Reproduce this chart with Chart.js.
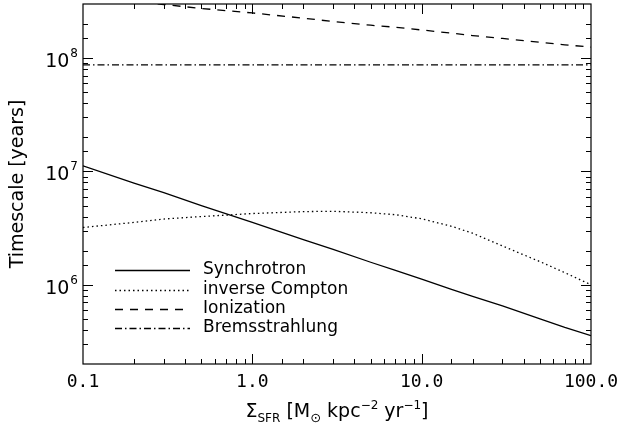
<!DOCTYPE html>
<html>
<head>
<meta charset="utf-8">
<script src="https://cdn.jsdelivr.net/npm/chart.js@4.4.1/dist/chart.umd.min.js"></script>
<style>
  html, body { margin: 0; padding: 0; background: #fff; }
</style>
</head>
<body>
<canvas id="timeChart" width="621" height="430"></canvas>
<script>
// star formation rate surface density, M_sun kpc^-2 yr^-1
const sfr = [0.1, 0.2, 0.3, 0.5, 1, 2, 3, 5, 7, 10, 15, 20, 30, 50, 70, 100];

// timescales in years
const synchrotron = [1.12e7, 7.9e6, 6.5e6, 5.0e6, 3.55e6, 2.5e6, 2.05e6, 1.58e6, 1.34e6, 1.12e6, 9.1e5, 7.9e5, 6.5e5, 5.0e5, 4.2e5, 3.55e5];
const inverseCompton = [3.2e6, 3.55e6, 3.8e6, 4.0e6, 4.25e6, 4.42e6, 4.45e6, 4.32e6, 4.15e6, 3.82e6, 3.28e6, 2.85e6, 2.2e6, 1.6e6, 1.28e6, 1.0e6];
const ionization = [3.5e8, 3.16e8, 2.97e8, 2.74e8, 2.5e8, 2.25e8, 2.1e8, 1.95e8, 1.87e8, 1.77e8, 1.66e8, 1.58e8, 1.49e8, 1.38e8, 1.31e8, 1.25e8];
const bremsstrahlung = [8.7e7, 8.7e7, 8.7e7, 8.7e7, 8.7e7, 8.7e7, 8.7e7, 8.7e7, 8.7e7, 8.7e7, 8.7e7, 8.7e7, 8.7e7, 8.7e7, 8.7e7, 8.7e7];

const seriesNames = ['Synchrotron', 'inverse Compton', 'Ionization', 'Bremsstrahlung'];

const xTickValues = [0.1, 1, 10, 100];
const xTickLabels = ['0.1', '1.0', '10.0', '100.0'];
const yTickValues = [1e6, 1e7, 1e8];
const yTickExps = ['6', '7', '8'];

const FONT = 'DejaVu Sans';

function pts(ys) {
  return sfr.map((x, i) => ({ x: x, y: ys[i] }));
}

function line(label, ys, dash) {
  return {
    label: label,
    data: pts(ys),
    borderColor: '#000',
    borderWidth: 1.3,
    borderDash: dash,
    pointRadius: 0,
    tension: 0,
    fill: false
  };
}

function isMajor(v) {
  const l = Math.log10(v);
  return Math.abs(l - Math.round(l)) < 1e-6;
}

// box with inward ticks, y labels with exponents, titles and legend
const decorations = {
  id: 'decorations',
  afterDraw(chart) {
    const ctx = chart.ctx;
    const a = chart.chartArea;
    const xs = chart.scales.x, ys = chart.scales.y;
    ctx.save();
    ctx.strokeStyle = '#000';
    ctx.fillStyle = '#000';
    ctx.lineWidth = 1.2;
    ctx.setLineDash([]);
    ctx.strokeRect(a.left, a.top, a.right - a.left, a.bottom - a.top);

    ctx.lineWidth = 1;
    ctx.beginPath();
    xs.ticks.forEach(t => {
      const px = Math.round(xs.getPixelForValue(t.value)) + 0.5;
      if (px <= a.left + 1 || px >= a.right - 1) return;
      const len = isMajor(t.value) ? 10 : 5;
      ctx.moveTo(px, a.bottom); ctx.lineTo(px, a.bottom - len);
      ctx.moveTo(px, a.top); ctx.lineTo(px, a.top + len);
    });
    ys.ticks.forEach(t => {
      const py = Math.round(ys.getPixelForValue(t.value)) + 0.5;
      if (py <= a.top + 1 || py >= a.bottom - 1) return;
      const len = isMajor(t.value) ? 10 : 5;
      ctx.moveTo(a.left, py); ctx.lineTo(a.left + len, py);
      ctx.moveTo(a.right, py); ctx.lineTo(a.right - len, py);
    });
    ctx.stroke();

    // y tick labels: 10 with superscript exponent
    ctx.textBaseline = 'alphabetic';
    yTickValues.forEach((v, i) => {
      const py = ys.getPixelForValue(v);
      ctx.font = '12px ' + FONT;
      const we = ctx.measureText(yTickExps[i]).width;
      ctx.textAlign = 'left';
      const xe = 78 - we;
      ctx.fillText(yTickExps[i], xe, py - 1);
      ctx.font = '19px ' + FONT;
      ctx.textAlign = 'right';
      ctx.fillText('10', xe - 1, py + 9);
    });

    // y axis title
    ctx.save();
    ctx.translate(18, (a.top + a.bottom) / 2);
    ctx.rotate(-Math.PI / 2);
    ctx.font = '19px ' + FONT;
    ctx.textAlign = 'center';
    ctx.textBaseline = 'middle';
    ctx.fillText('Timescale [years]', 0, 0);
    ctx.restore();

    // x axis title with sub/superscripts
    const parts = [
      ['Σ', 0, 19], ['SFR', 5, 12], [' [M', 0, 19], ['⊙', 5, 13], [' kpc', 0, 19],
      ['−2', -8, 12], [' yr', 0, 19], ['−1', -8, 12], [']', 0, 19]
    ];
    let total = 0;
    parts.forEach(p => { ctx.font = p[2] + 'px ' + FONT; total += ctx.measureText(p[0]).width; });
    let cx = (a.left + a.right) / 2 - total / 2;
    ctx.textAlign = 'left';
    ctx.textBaseline = 'alphabetic';
    parts.forEach(p => {
      ctx.font = p[2] + 'px ' + FONT;
      ctx.fillText(p[0], cx, 417 + p[1]);
      cx += ctx.measureText(p[0]).width;
    });

    // legend
    const rowsY = [270, 290, 309, 328];
    chart.data.datasets.forEach((ds, i) => {
      ctx.lineWidth = ds.borderWidth;
      ctx.setLineDash(ds.borderDash || []);
      ctx.beginPath();
      ctx.moveTo(115, rowsY[i] + 0.5);
      ctx.lineTo(190, rowsY[i] + 0.5);
      ctx.stroke();
      ctx.setLineDash([]);
      ctx.font = '17px ' + FONT;
      ctx.textAlign = 'left';
      ctx.textBaseline = 'middle';
      ctx.fillText(ds.label, 203, rowsY[i]);
    });
    ctx.restore();
  }
};

const ctx = document.getElementById('timeChart').getContext('2d');
const timeChart = new Chart(ctx, {
  type: 'line',
  data: {
    datasets: [
      line(seriesNames[0], synchrotron, []),
      line(seriesNames[1], inverseCompton, [1.5, 3]),
      line(seriesNames[2], ionization, [8, 7]),
      line(seriesNames[3], bremsstrahlung, [7, 3, 1.5, 3])
    ]
  },
  options: {
    responsive: false,
    animation: false,
    devicePixelRatio: 1,
    layout: { padding: { top: 4, right: 30, left: 0, bottom: 0 } },
    plugins: { legend: { display: false }, tooltip: { enabled: false } },
    scales: {
      x: {
        type: 'logarithmic',
        min: 0.1,
        max: 100,
        grid: { display: false, drawTicks: false },
        border: { display: false },
        ticks: {
          autoSkip: false,
          maxRotation: 0,
          padding: 8,
          color: '#000',
          font: { family: 'DejaVu Sans Mono', size: 18 },
          callback: (v) => {
            const i = xTickValues.findIndex(t => Math.abs(t - v) / t < 1e-6);
            return i < 0 ? '' : xTickLabels[i];
          }
        },
        afterFit: (s) => { s.height = 66; s.paddingLeft = 0; s.paddingRight = 0; }
      },
      y: {
        type: 'logarithmic',
        min: 2e5,
        max: 3e8,
        grid: { display: false, drawTicks: false },
        border: { display: false },
        ticks: { display: false },
        afterFit: (s) => { s.width = 83; s.paddingTop = 0; s.paddingBottom = 0; }
      }
    }
  },
  plugins: [decorations]
});
</script>
</body>
</html>
